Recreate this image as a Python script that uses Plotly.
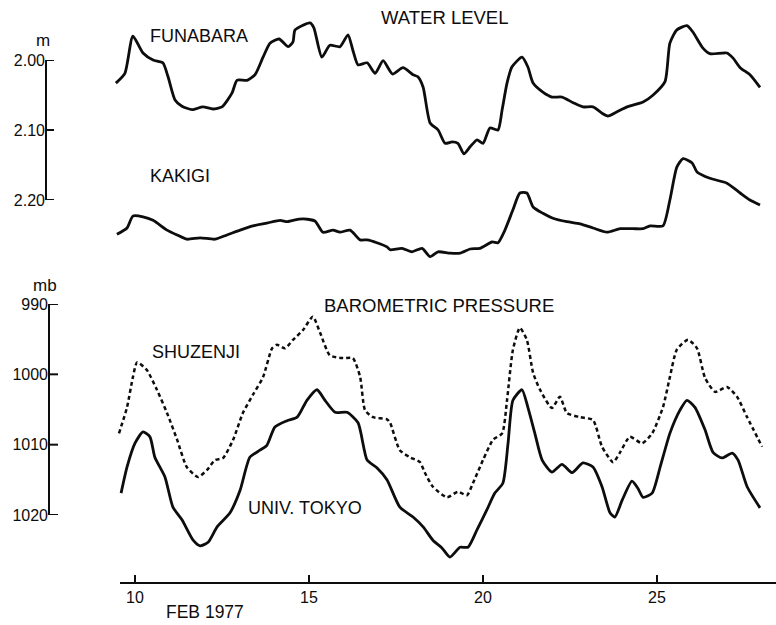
import plotly.graph_objects as go

# ---- Water level (m, below datum; axis runs downward) ----
funabara_day = [9.45, 9.71, 9.94, 10.23, 10.52, 10.80, 10.95, 11.15, 11.35, 11.64, 11.95, 12.24,
                12.50, 12.79, 12.93, 13.22, 13.45, 13.68, 13.88, 14.14, 14.40, 14.54, 14.60, 15.03,
                15.14, 15.37, 15.60, 15.89, 16.12, 16.26, 16.41, 16.67, 16.90, 17.13, 17.40, 17.70,
                17.99, 18.13, 18.28, 18.48, 18.71, 18.91, 19.11, 19.28, 19.45, 19.63, 19.83, 20.00,
                20.20, 20.43, 20.55, 20.69, 20.83, 21.12, 21.29, 21.44, 21.72, 21.98, 22.27, 22.59,
                22.87, 23.16, 23.42, 23.59, 23.85, 24.14, 24.60, 24.89, 25.23, 25.37, 25.57, 25.86,
                26.03, 26.32, 26.52, 27.01, 27.18, 27.39, 27.67, 27.96]
funabara_m = [2.033, 2.019, 1.966, 1.990, 2.000, 2.004, 2.024, 2.057, 2.066, 2.071, 2.067, 2.070,
              2.067, 2.047, 2.029, 2.029, 2.021, 1.996, 1.976, 1.970, 1.981, 1.974, 1.957, 1.947,
              1.954, 1.996, 1.979, 1.981, 1.964, 1.986, 2.007, 2.004, 2.019, 2.001, 2.020, 2.011,
              2.021, 2.024, 2.039, 2.090, 2.100, 2.119, 2.117, 2.119, 2.134, 2.124, 2.114, 2.119,
              2.097, 2.100, 2.071, 2.033, 2.010, 1.996, 2.010, 2.033, 2.046, 2.053, 2.053, 2.061,
              2.067, 2.067, 2.076, 2.080, 2.074, 2.067, 2.060, 2.050, 2.031, 1.976, 1.957, 1.951,
              1.960, 1.983, 1.991, 1.990, 1.997, 2.011, 2.021, 2.039]

kakigi_day = [9.48, 9.77, 9.94, 10.23, 10.52, 10.92, 11.21, 11.49, 11.87, 12.30, 12.64, 13.02,
              13.39, 13.79, 14.17, 14.37, 14.54, 14.83, 15.17, 15.40, 15.69, 15.89, 16.18, 16.47,
              16.67, 16.95, 17.24, 17.33, 17.67, 17.96, 18.25, 18.48, 18.71, 19.05, 19.34, 19.63,
              19.91, 20.26, 20.43, 20.63, 20.86, 21.06, 21.26, 21.44, 21.72, 22.01, 22.41, 22.79,
              23.16, 23.56, 23.94, 24.31, 24.60, 24.80, 25.17, 25.37, 25.57, 25.75, 26.01, 26.15,
              26.52, 27.01, 27.39, 27.67, 27.96]
kakigi_m = [2.249, 2.240, 2.223, 2.224, 2.229, 2.243, 2.250, 2.256, 2.254, 2.256, 2.250, 2.243,
            2.237, 2.233, 2.229, 2.231, 2.229, 2.227, 2.230, 2.246, 2.243, 2.246, 2.243, 2.257,
            2.257, 2.261, 2.267, 2.271, 2.269, 2.274, 2.269, 2.281, 2.274, 2.276, 2.276, 2.270,
            2.269, 2.260, 2.261, 2.243, 2.214, 2.190, 2.190, 2.210, 2.219, 2.226, 2.231, 2.234,
            2.240, 2.246, 2.241, 2.241, 2.241, 2.237, 2.237, 2.200, 2.153, 2.141, 2.147, 2.160,
            2.169, 2.176, 2.190, 2.200, 2.207]

# ---- Barometric pressure (mb; axis runs downward) ----
shuzenji_day = [9.54, 9.77, 9.94, 10.06, 10.34, 10.63, 10.92, 11.21, 11.49, 11.81, 12.07, 12.30,
                12.53, 12.82, 13.10, 13.39, 13.68, 13.94, 14.08, 14.31, 14.54, 14.83, 15.11, 15.32,
                15.60, 15.98, 16.26, 16.47, 16.61, 16.84, 17.24, 17.33, 17.61, 17.90, 18.19, 18.33,
                18.56, 18.97, 19.28, 19.54, 19.71, 20.00, 20.29, 20.55, 20.69, 20.86, 21.06, 21.26,
                21.44, 21.64, 21.98, 22.21, 22.41, 22.79, 23.16, 23.42, 23.74, 23.94, 24.22, 24.57,
                24.86, 25.17, 25.37, 25.57, 25.89, 26.15, 26.38, 26.67, 27.01, 27.30, 27.59, 28.02]
shuzenji_mb = [1008.4, 1004.7, 1000.4, 998.3, 999.4, 1002.2, 1005.5, 1009.3, 1013.2, 1014.6, 1013.6,
               1012.2, 1011.9, 1009.3, 1005.5, 1002.9, 1000.4, 996.3, 995.8, 996.3, 995.1, 993.7,
               991.8, 994.1, 997.3, 997.7, 997.7, 1000.4, 1005.1, 1006.1, 1006.4, 1006.9, 1010.8,
               1011.8, 1012.5, 1014.0, 1016.0, 1017.5, 1016.7, 1017.2, 1015.5, 1012.2, 1009.3,
               1008.4, 1003.7, 996.5, 993.4, 995.1, 999.8, 1002.2, 1004.8, 1003.2, 1005.5, 1006.1,
               1006.5, 1010.3, 1012.5, 1011.1, 1008.9, 1009.8, 1008.4, 1004.7, 1000.4, 996.5,
               995.1, 996.3, 1000.5, 1002.5, 1001.8, 1003.2, 1006.1, 1010.3]

tokyo_day = [9.60, 9.77, 10.00, 10.23, 10.43, 10.57, 10.86, 11.09, 11.35, 11.67, 11.87, 12.10,
             12.36, 12.73, 13.02, 13.30, 13.59, 13.79, 14.02, 14.37, 14.66, 14.94, 15.23, 15.46,
             15.75, 16.09, 16.41, 16.67, 16.95, 17.24, 17.61, 17.99, 18.28, 18.56, 18.82, 19.05,
             19.34, 19.57, 19.83, 20.11, 20.34, 20.57, 20.72, 20.86, 21.12, 21.29, 21.49, 21.70,
             21.98, 22.27, 22.56, 22.87, 23.16, 23.42, 23.65, 23.79, 24.00, 24.28, 24.45, 24.60,
             24.86, 25.09, 25.37, 25.66, 25.86, 26.09, 26.38, 26.61, 26.87, 27.16, 27.33, 27.59,
             27.96]
tokyo_mb = [1016.9, 1013.2, 1009.8, 1008.2, 1008.9, 1011.8, 1014.6, 1018.9, 1020.7, 1023.6, 1024.4,
            1023.9, 1021.7, 1019.7, 1016.5, 1011.8, 1010.8, 1010.1, 1007.5, 1006.6, 1006.1, 1003.7,
            1002.2, 1003.7, 1005.4, 1005.4, 1006.9, 1012.2, 1013.3, 1015.0, 1018.9, 1020.3, 1021.7,
            1023.6, 1024.7, 1026.0, 1024.6, 1024.6, 1022.1, 1019.3, 1016.9, 1015.5, 1009.8, 1003.7,
            1002.2, 1004.7, 1008.4, 1012.2, 1013.9, 1012.8, 1014.0, 1012.6, 1013.2, 1016.0, 1019.7,
            1020.3, 1017.9, 1015.2, 1016.2, 1017.5, 1016.9, 1013.2, 1008.4, 1005.1, 1003.7, 1004.7,
            1007.9, 1011.1, 1011.9, 1011.2, 1012.2, 1016.0, 1019.0]

day_ticks = [10, 15, 20, 25]
level_ticks = [2.00, 2.10, 2.20]
pressure_ticks = [990, 1000, 1010, 1020]

# ---- page geometry (pixels) ----
W, H = 776, 625
DAY10_PX, PX_PER_DAY = 135.0, 34.8
LEVEL_TOP_PX, PX_PER_M = 60.0, 700.0        # 2.00 m at y=60
PRES_TOP_PX, PX_PER_MB = 304.0, 7.03        # 990 mb at y=304
LEVEL_AXIS_PX, PRES_AXIS_PX = 46, 49        # x of the two vertical scale lines


def fx(px):
    return px / W


def fy(py):
    return 1 - py / H


def day_at(px):
    return 10 + (px - DAY10_PX) / PX_PER_DAY


def level_at(py):
    return 2.00 + (py - LEVEL_TOP_PX) / PX_PER_M


def pres_at(py):
    return 990 + (py - PRES_TOP_PX) / PX_PER_MB


INK = "#0d0d0d"
FONT = "Liberation Sans"

fig = go.Figure()

solid = dict(color=INK, width=2.8, shape="spline", smoothing=0.6)
fig.add_trace(go.Scatter(x=funabara_day, y=funabara_m, mode="lines", line=solid,
                         xaxis="x", yaxis="y", name="FUNABARA"))
fig.add_trace(go.Scatter(x=kakigi_day, y=kakigi_m, mode="lines", line=solid,
                         xaxis="x", yaxis="y", name="KAKIGI"))
fig.add_trace(go.Scatter(x=shuzenji_day, y=shuzenji_mb, mode="lines",
                         line=dict(color=INK, width=2.5, dash="4px,3px", shape="spline", smoothing=0.6),
                         xaxis="x", yaxis="y2", name="SHUZENJI"))
fig.add_trace(go.Scatter(x=tokyo_day, y=tokyo_mb, mode="lines", line=solid,
                         xaxis="x", yaxis="y2", name="UNIV. TOKYO"))


def anchor_trace(xa, ya, xs, ys):
    # invisible points so each scale axis gets a subplot to live on
    fig.add_trace(go.Scatter(x=xs, y=ys, mode="markers", marker=dict(opacity=0),
                             hoverinfo="skip", xaxis=xa, yaxis=ya))


anchor_trace("x2", "y5", [day_ticks[0], day_ticks[-1]], [0, 1])
anchor_trace("x3", "y3", [0, 1], [level_ticks[0], level_ticks[-1]])
anchor_trace("x4", "y4", [0, 1], [pressure_ticks[0], pressure_ticks[-1]])

tickfont = dict(family=FONT, size=16, color=INK)
hidden = dict(visible=False, showgrid=False, zeroline=False)

fig.update_layout(
    width=W, height=H,
    margin=dict(l=0, r=0, t=0, b=0, autoexpand=False),
    paper_bgcolor="white", plot_bgcolor="rgba(0,0,0,0)",
    showlegend=False,
    # data axes
    xaxis=dict(domain=[fx(100), 1], range=[day_at(100), day_at(W)], anchor="y", **hidden),
    yaxis=dict(domain=[fy(275), fy(10)], range=[level_at(275), level_at(10)], anchor="x", **hidden),
    yaxis2=dict(domain=[fy(575), fy(290)], range=[pres_at(575), pres_at(290)], anchor="x", **hidden),
    # time scale along the bottom
    xaxis2=dict(domain=[fx(120), 1], range=[day_at(120), day_at(W)], anchor="y5",
                tickvals=day_ticks, ticks="inside", ticklen=7, tickwidth=2, tickcolor=INK,
                showline=True, linecolor=INK, linewidth=2, tickfont=tickfont,
                showgrid=False, zeroline=False),
    yaxis5=dict(domain=[fy(582), fy(560)], range=[0, 1], anchor="x2", **hidden),
    # water level scale (labels from the axis, line and ticks drawn below)
    xaxis3=dict(domain=[fx(LEVEL_AXIS_PX), fx(60)], range=[0, 1], anchor="y3", **hidden),
    yaxis3=dict(domain=[fy(200), fy(60)], range=[level_ticks[-1], level_ticks[0]], anchor="x3",
                tickvals=level_ticks, tickformat=".2f", ticks="", tickfont=tickfont,
                showline=False, showgrid=False, zeroline=False),
    # pressure scale
    xaxis4=dict(domain=[fx(PRES_AXIS_PX), fx(60)], range=[0, 1], anchor="y4", **hidden),
    yaxis4=dict(domain=[fy(515), fy(304)], range=[pressure_ticks[-1], pressure_ticks[0]], anchor="x4",
                tickvals=pressure_ticks, ticks="", tickfont=tickfont,
                showline=False, showgrid=False, zeroline=False),
)


def scale_bar(yref, ticks, axis_px, tick_len):
    stroke = dict(color=INK, width=2)
    fig.add_shape(type="line", xref="paper", yref=yref, x0=fx(axis_px), x1=fx(axis_px),
                  y0=ticks[0], y1=ticks[-1], line=stroke)
    for v in ticks:
        fig.add_shape(type="line", xref="paper", yref=yref, x0=fx(axis_px - 1),
                      x1=fx(axis_px + tick_len), y0=v, y1=v, line=stroke)


scale_bar("y3", level_ticks, LEVEL_AXIS_PX, 8)
scale_bar("y4", pressure_ticks, PRES_AXIS_PX, 9)


def label(text, px, py, size=18):
    fig.add_annotation(text=text, x=fx(px), y=fy(py), xref="paper", yref="paper",
                       showarrow=False, xanchor="center", yanchor="middle",
                       font=dict(family=FONT, size=size, color=INK))


label("m", 43, 40, 17)
label("mb", 45, 285, 17)
label("WATER LEVEL", 444, 17, 18.5)
label("FUNABARA", 199, 36)
label("KAKIGI", 180, 176)
label("BAROMETRIC PRESSURE", 439, 305, 18.5)
label("SHUZENJI", 196, 352)
label("UNIV. TOKYO", 305, 508)
label("FEB 1977", 205, 612, 17.5)

fig.write_html("out.html")
